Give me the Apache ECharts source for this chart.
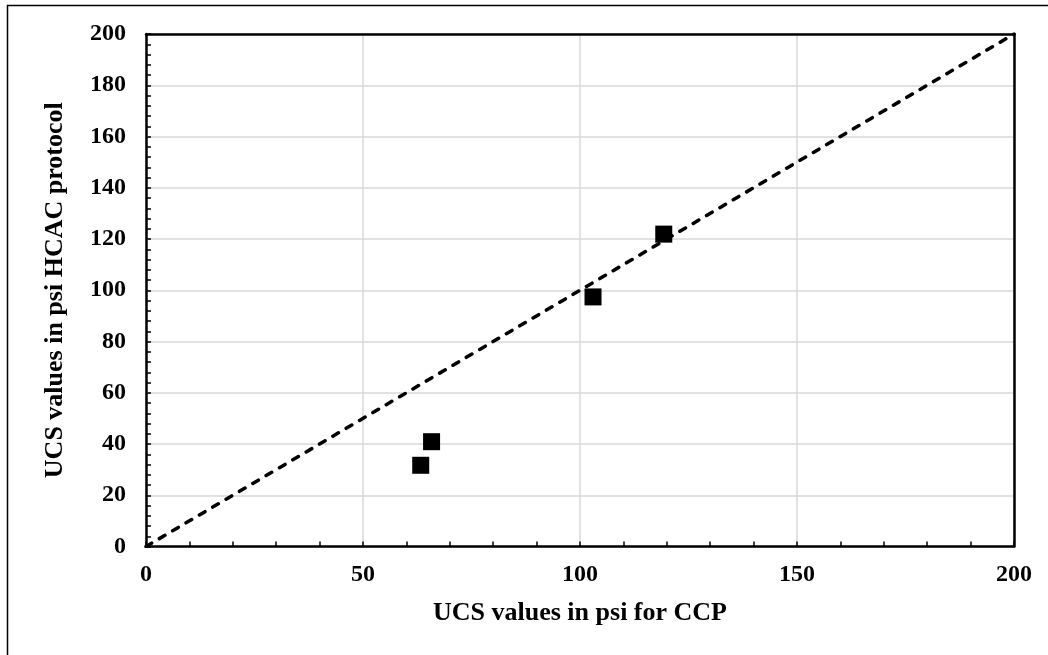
<!DOCTYPE html>
<html>
<head>
<meta charset="utf-8">
<script src="https://cdn.jsdelivr.net/npm/echarts@6/dist/echarts.min.js"></script>
<style>
  html, body { margin: 0; padding: 0; background: #fff; }
  #chart { width: 1048px; height: 655px; }
</style>
</head>
<body>
<div id="chart"></div>
<script>
// UCS (psi): CCP protocol vs HCAC protocol
const ccpValues = [63.3, 65.8, 103.0, 119.3];
const hcacValues = [31.7, 40.9, 97.4, 121.9];
const equalityLine = [[0, 0], [200, 200]];
const xTitle = 'UCS values in psi for CCP';
const yTitle = 'UCS values in psi HCAC protocol';

const font = 'Liberation Serif, Times New Roman, serif';
const points = ccpValues.map((x, i) => [x, hcacValues[i]]);

const tickStyle = { color: '#000', width: 1.5 };
const labelStyle = { fontFamily: font, fontWeight: 'bold', fontSize: 24, color: '#000' };
const titleStyle = { fontFamily: font, fontWeight: 'bold', fontSize: 26, color: '#000' };

// plain frame lines for the top and right sides of the plot box
const frameAxis = {
  type: 'value', min: 0, max: 200,
  axisLine: { show: true, onZero: false, lineStyle: { color: '#000', width: 2.5 } },
  axisTick: { show: false }, axisLabel: { show: false }, splitLine: { show: false }
};

const chart = echarts.init(document.getElementById('chart'), null, { renderer: 'canvas' });
chart.setOption({
  backgroundColor: '#fff',
  animation: false,
  graphic: [{
    type: 'rect',
    shape: { x: 7.5, y: 5.5, width: 1100, height: 700 },
    style: { fill: 'none', stroke: '#000', lineWidth: 1.5 },
    silent: true,
    z: -1
  }],
  grid: { left: 146, top: 34, right: 34, bottom: 108.5 },
  xAxis: [{
    type: 'value', min: 0, max: 200, interval: 50,
    name: xTitle, nameLocation: 'middle', nameGap: 54,
    nameTextStyle: titleStyle,
    axisLine: { show: true, onZero: false, lineStyle: { color: '#000', width: 2.5 } },
    axisTick: { show: true, inside: true, length: 5, lineStyle: tickStyle },
    minorTick: { show: true, splitNumber: 5, length: 5, lineStyle: tickStyle },
    axisLabel: Object.assign({ margin: 16 }, labelStyle),
    splitLine: { show: true, lineStyle: { color: '#d9d9d9', width: 1.5 } }
  }, Object.assign({ position: 'top' }, frameAxis)],
  yAxis: [{
    type: 'value', min: 0, max: 200, interval: 20,
    name: yTitle, nameLocation: 'middle', nameGap: 78,
    nameTextStyle: titleStyle,
    axisLine: { show: true, onZero: false, lineStyle: { color: '#000', width: 2.5 } },
    axisTick: { show: true, inside: true, length: 5, lineStyle: tickStyle },
    minorTick: { show: true, splitNumber: 5, length: 5, lineStyle: tickStyle },
    axisLabel: Object.assign({ margin: 20 }, labelStyle),
    splitLine: { show: true, lineStyle: { color: '#d9d9d9', width: 1.5 } }
  }, Object.assign({ position: 'right' }, frameAxis)],
  series: [
    {
      name: 'Equality',
      type: 'line',
      data: equalityLine,
      symbol: 'none',
      lineStyle: { color: '#000', width: 3.5, type: [6.5, 9], cap: 'round' },
      z: 2
    },
    {
      name: 'UCS',
      type: 'scatter',
      data: points,
      symbol: 'rect',
      symbolSize: 17,
      itemStyle: { color: '#000', opacity: 1 },
      z: 3
    }
  ]
});
</script>
</body>
</html>
